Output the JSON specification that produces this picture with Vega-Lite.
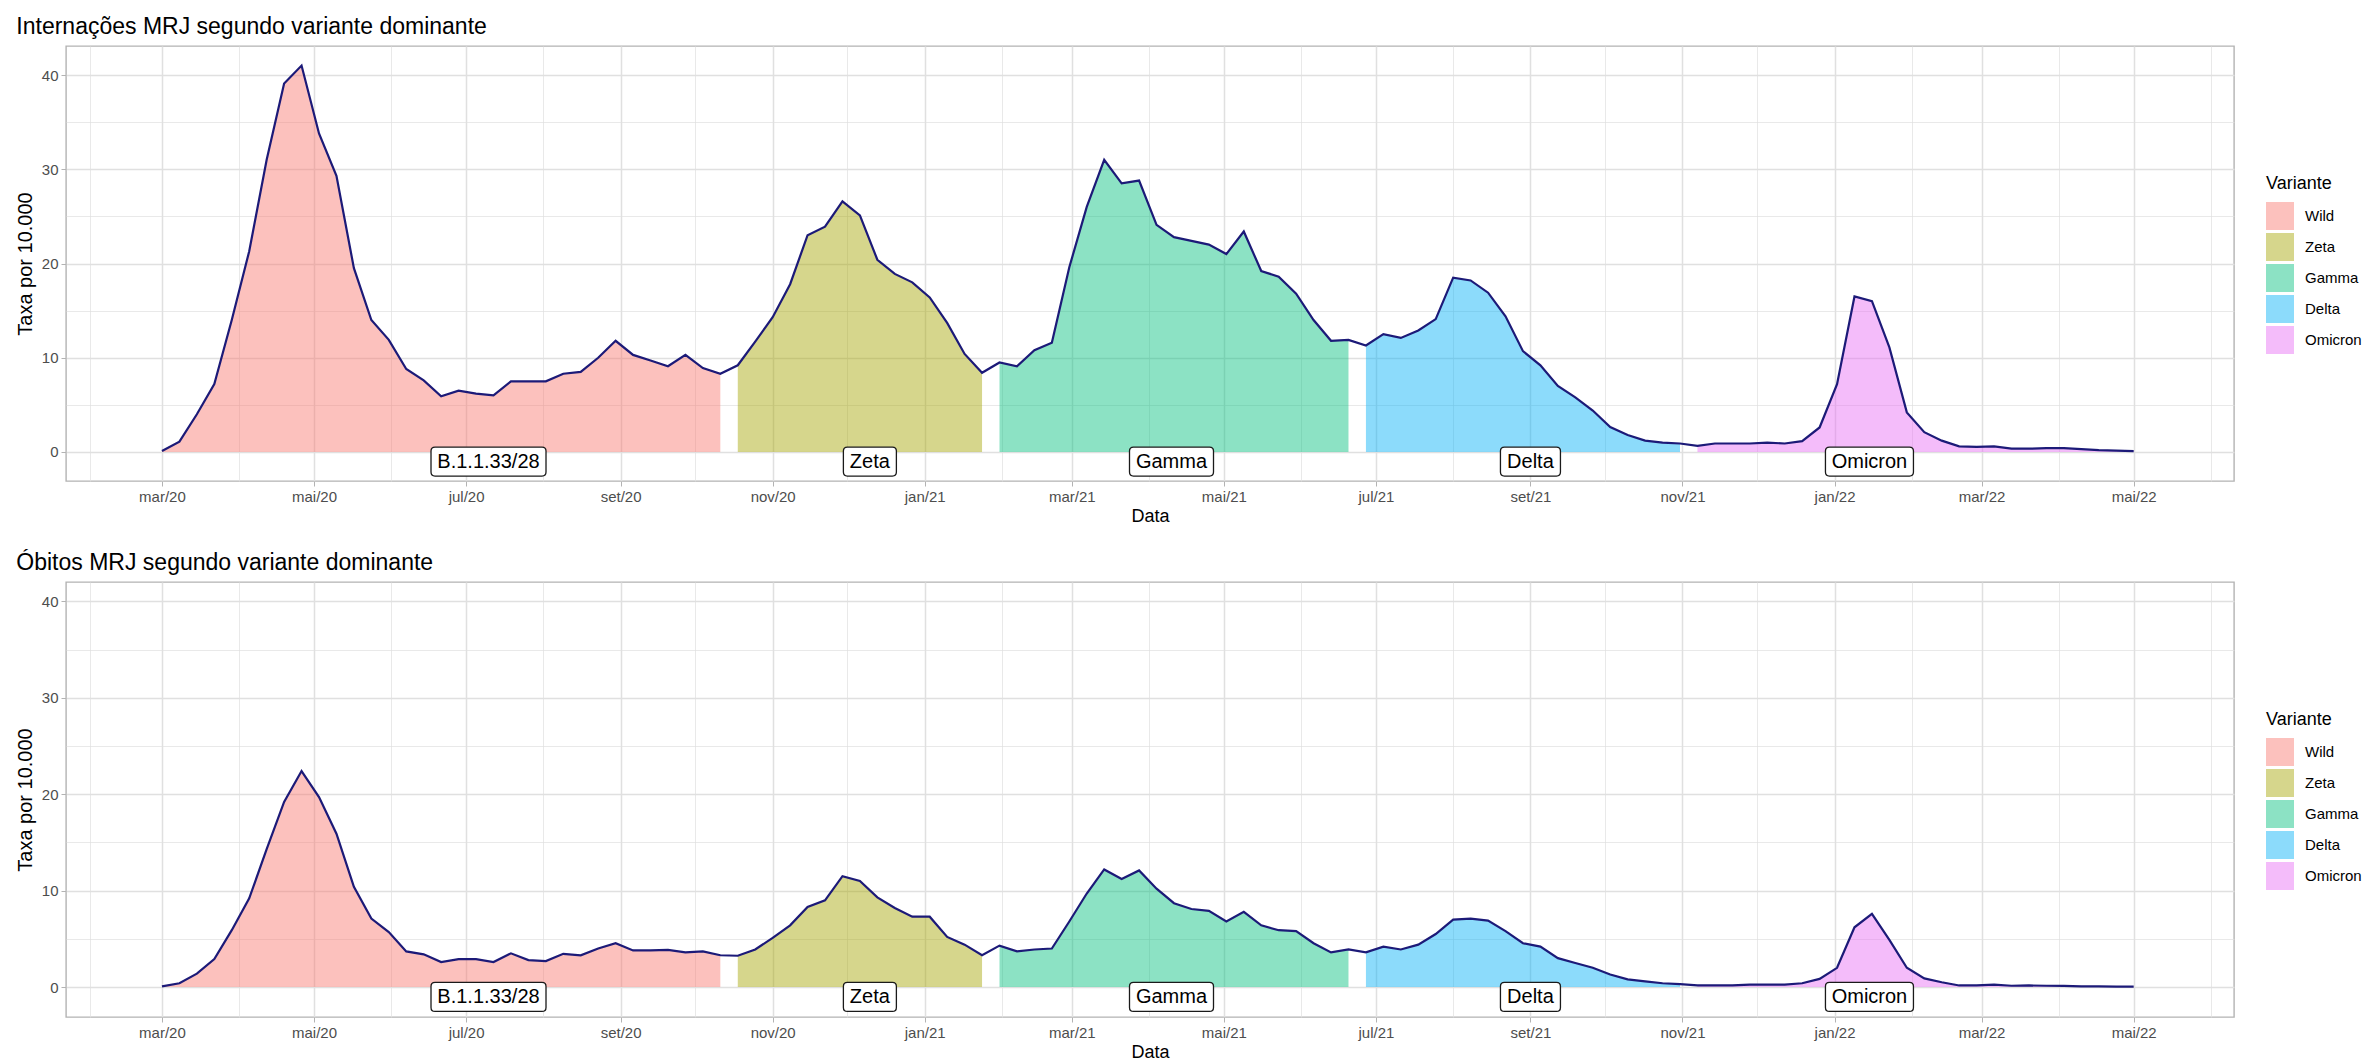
{
 "$schema": "https://vega.github.io/schema/vega-lite/v6.json",
 "padding": {"left": 14, "top": 15, "right": 2, "bottom": 0},
 "background": "white",
 "config": {
  "font": "Liberation Sans",
  "view": {"stroke": "#b3b3b3", "strokeWidth": 1.4},
  "title": {"fontSize": 23, "fontWeight": "normal", "color": "black", "anchor": "start", "offset": 7, "dx": 1},
  "axis": {"domain": false, "labelFontSize": 15, "labelColor": "#4d4d4d", "titleFontSize": 18, "titleFontWeight": "normal", "titleColor": "black", "tickColor": "#b3b3b3", "tickSize": 5, "tickWidth": 1, "gridColor": "#e0e0e0", "labelPadding": 3}
 },
 "datasets": {
  "serie": [
   {"data":"2020-03-01","variante":"Wild","internacoes":0.1,"obitos":0.07},
   {"data":"2020-03-08","variante":"Wild","internacoes":1.1,"obitos":0.4},
   {"data":"2020-03-15","variante":"Wild","internacoes":4.0,"obitos":1.4},
   {"data":"2020-03-22","variante":"Wild","internacoes":7.2,"obitos":2.9},
   {"data":"2020-03-29","variante":"Wild","internacoes":14.0,"obitos":5.9},
   {"data":"2020-04-05","variante":"Wild","internacoes":21.3,"obitos":9.2},
   {"data":"2020-04-12","variante":"Wild","internacoes":31.0,"obitos":14.3},
   {"data":"2020-04-19","variante":"Wild","internacoes":39.1,"obitos":19.2},
   {"data":"2020-04-26","variante":"Wild","internacoes":41.0,"obitos":22.4},
   {"data":"2020-05-03","variante":"Wild","internacoes":33.8,"obitos":19.7},
   {"data":"2020-05-10","variante":"Wild","internacoes":29.3,"obitos":15.9},
   {"data":"2020-05-17","variante":"Wild","internacoes":19.5,"obitos":10.4},
   {"data":"2020-05-24","variante":"Wild","internacoes":14.0,"obitos":7.1},
   {"data":"2020-05-31","variante":"Wild","internacoes":11.9,"obitos":5.7},
   {"data":"2020-06-07","variante":"Wild","internacoes":8.8,"obitos":3.7},
   {"data":"2020-06-14","variante":"Wild","internacoes":7.6,"obitos":3.4},
   {"data":"2020-06-21","variante":"Wild","internacoes":5.9,"obitos":2.6},
   {"data":"2020-06-28","variante":"Wild","internacoes":6.5,"obitos":2.9},
   {"data":"2020-07-05","variante":"Wild","internacoes":6.2,"obitos":2.9},
   {"data":"2020-07-12","variante":"Wild","internacoes":6.0,"obitos":2.6},
   {"data":"2020-07-19","variante":"Wild","internacoes":7.5,"obitos":3.5},
   {"data":"2020-07-26","variante":"Wild","internacoes":7.5,"obitos":2.8},
   {"data":"2020-08-02","variante":"Wild","internacoes":7.5,"obitos":2.7},
   {"data":"2020-08-09","variante":"Wild","internacoes":8.3,"obitos":3.45},
   {"data":"2020-08-16","variante":"Wild","internacoes":8.5,"obitos":3.3},
   {"data":"2020-08-23","variante":"Wild","internacoes":10.0,"obitos":4.0},
   {"data":"2020-08-30","variante":"Wild","internacoes":11.8,"obitos":4.55},
   {"data":"2020-09-06","variante":"Wild","internacoes":10.3,"obitos":3.8},
   {"data":"2020-09-13","variante":"Wild","internacoes":9.7,"obitos":3.8},
   {"data":"2020-09-20","variante":"Wild","internacoes":9.1,"obitos":3.85},
   {"data":"2020-09-27","variante":"Wild","internacoes":10.3,"obitos":3.6},
   {"data":"2020-10-04","variante":"Wild","internacoes":8.9,"obitos":3.7},
   {"data":"2020-10-11","variante":"Wild","internacoes":8.3,"obitos":3.3},
   {"data":"2020-10-18","variante":"Zeta","internacoes":9.2,"obitos":3.25},
   {"data":"2020-10-25","variante":"Zeta","internacoes":11.7,"obitos":3.9},
   {"data":"2020-11-01","variante":"Zeta","internacoes":14.3,"obitos":5.1},
   {"data":"2020-11-08","variante":"Zeta","internacoes":17.8,"obitos":6.4},
   {"data":"2020-11-15","variante":"Zeta","internacoes":23.0,"obitos":8.3},
   {"data":"2020-11-22","variante":"Zeta","internacoes":23.9,"obitos":9.0},
   {"data":"2020-11-29","variante":"Zeta","internacoes":26.6,"obitos":11.5},
   {"data":"2020-12-06","variante":"Zeta","internacoes":25.1,"obitos":11.0},
   {"data":"2020-12-13","variante":"Zeta","internacoes":20.4,"obitos":9.3},
   {"data":"2020-12-20","variante":"Zeta","internacoes":18.9,"obitos":8.2},
   {"data":"2020-12-27","variante":"Zeta","internacoes":18.0,"obitos":7.3},
   {"data":"2021-01-03","variante":"Zeta","internacoes":16.4,"obitos":7.3},
   {"data":"2021-01-10","variante":"Zeta","internacoes":13.7,"obitos":5.2},
   {"data":"2021-01-17","variante":"Zeta","internacoes":10.4,"obitos":4.4},
   {"data":"2021-01-24","variante":"Zeta","internacoes":8.4,"obitos":3.3},
   {"data":"2021-01-31","variante":"Gamma","internacoes":9.5,"obitos":4.3},
   {"data":"2021-02-07","variante":"Gamma","internacoes":9.1,"obitos":3.7},
   {"data":"2021-02-14","variante":"Gamma","internacoes":10.8,"obitos":3.9},
   {"data":"2021-02-21","variante":"Gamma","internacoes":11.6,"obitos":4.0},
   {"data":"2021-02-28","variante":"Gamma","internacoes":19.6,"obitos":6.8},
   {"data":"2021-03-07","variante":"Gamma","internacoes":26.0,"obitos":9.7},
   {"data":"2021-03-14","variante":"Gamma","internacoes":31.0,"obitos":12.2},
   {"data":"2021-03-21","variante":"Gamma","internacoes":28.5,"obitos":11.2},
   {"data":"2021-03-28","variante":"Gamma","internacoes":28.8,"obitos":12.1},
   {"data":"2021-04-04","variante":"Gamma","internacoes":24.1,"obitos":10.2},
   {"data":"2021-04-11","variante":"Gamma","internacoes":22.8,"obitos":8.7},
   {"data":"2021-04-18","variante":"Gamma","internacoes":22.4,"obitos":8.1},
   {"data":"2021-04-25","variante":"Gamma","internacoes":22.0,"obitos":7.9},
   {"data":"2021-05-02","variante":"Gamma","internacoes":21.0,"obitos":6.8},
   {"data":"2021-05-09","variante":"Gamma","internacoes":23.4,"obitos":7.8},
   {"data":"2021-05-16","variante":"Gamma","internacoes":19.2,"obitos":6.4},
   {"data":"2021-05-23","variante":"Gamma","internacoes":18.6,"obitos":5.9},
   {"data":"2021-05-30","variante":"Gamma","internacoes":16.8,"obitos":5.8},
   {"data":"2021-06-06","variante":"Gamma","internacoes":14.0,"obitos":4.55},
   {"data":"2021-06-13","variante":"Gamma","internacoes":11.8,"obitos":3.6},
   {"data":"2021-06-20","variante":"Gamma","internacoes":11.9,"obitos":3.9},
   {"data":"2021-06-27","variante":"Delta","internacoes":11.3,"obitos":3.6},
   {"data":"2021-07-04","variante":"Delta","internacoes":12.5,"obitos":4.2},
   {"data":"2021-07-11","variante":"Delta","internacoes":12.1,"obitos":3.9},
   {"data":"2021-07-18","variante":"Delta","internacoes":12.9,"obitos":4.4},
   {"data":"2021-07-25","variante":"Delta","internacoes":14.1,"obitos":5.5},
   {"data":"2021-08-01","variante":"Delta","internacoes":18.5,"obitos":7.0},
   {"data":"2021-08-08","variante":"Delta","internacoes":18.2,"obitos":7.1},
   {"data":"2021-08-15","variante":"Delta","internacoes":16.9,"obitos":6.9},
   {"data":"2021-08-22","variante":"Delta","internacoes":14.4,"obitos":5.8},
   {"data":"2021-08-29","variante":"Delta","internacoes":10.7,"obitos":4.55},
   {"data":"2021-09-05","variante":"Delta","internacoes":9.2,"obitos":4.2},
   {"data":"2021-09-12","variante":"Delta","internacoes":7.0,"obitos":3.0},
   {"data":"2021-09-19","variante":"Delta","internacoes":5.8,"obitos":2.5},
   {"data":"2021-09-26","variante":"Delta","internacoes":4.4,"obitos":2.0},
   {"data":"2021-10-03","variante":"Delta","internacoes":2.65,"obitos":1.3},
   {"data":"2021-10-10","variante":"Delta","internacoes":1.8,"obitos":0.8},
   {"data":"2021-10-17","variante":"Delta","internacoes":1.2,"obitos":0.6},
   {"data":"2021-10-24","variante":"Delta","internacoes":1.0,"obitos":0.4},
   {"data":"2021-10-31","variante":"Delta","internacoes":0.9,"obitos":0.3},
   {"data":"2021-11-07","variante":"Omicron","internacoes":0.65,"obitos":0.17},
   {"data":"2021-11-14","variante":"Omicron","internacoes":0.9,"obitos":0.17},
   {"data":"2021-11-21","variante":"Omicron","internacoes":0.9,"obitos":0.17},
   {"data":"2021-11-28","variante":"Omicron","internacoes":0.9,"obitos":0.25},
   {"data":"2021-12-05","variante":"Omicron","internacoes":1.0,"obitos":0.25},
   {"data":"2021-12-12","variante":"Omicron","internacoes":0.9,"obitos":0.25},
   {"data":"2021-12-19","variante":"Omicron","internacoes":1.15,"obitos":0.4},
   {"data":"2021-12-26","variante":"Omicron","internacoes":2.6,"obitos":0.85},
   {"data":"2022-01-02","variante":"Omicron","internacoes":7.2,"obitos":2.0},
   {"data":"2022-01-09","variante":"Omicron","internacoes":16.5,"obitos":6.2},
   {"data":"2022-01-16","variante":"Omicron","internacoes":16.0,"obitos":7.6},
   {"data":"2022-01-23","variante":"Omicron","internacoes":11.1,"obitos":4.9},
   {"data":"2022-01-30","variante":"Omicron","internacoes":4.2,"obitos":2.0},
   {"data":"2022-02-06","variante":"Omicron","internacoes":2.1,"obitos":0.9},
   {"data":"2022-02-13","variante":"Omicron","internacoes":1.2,"obitos":0.5},
   {"data":"2022-02-20","variante":"Omicron","internacoes":0.6,"obitos":0.17},
   {"data":"2022-02-27","variante":"Omicron","internacoes":0.55,"obitos":0.17},
   {"data":"2022-03-06","variante":"Omicron","internacoes":0.6,"obitos":0.25},
   {"data":"2022-03-13","variante":"Omicron","internacoes":0.35,"obitos":0.14},
   {"data":"2022-03-20","variante":"Omicron","internacoes":0.35,"obitos":0.17},
   {"data":"2022-03-27","variante":"Omicron","internacoes":0.4,"obitos":0.14},
   {"data":"2022-04-03","variante":"Omicron","internacoes":0.4,"obitos":0.12},
   {"data":"2022-04-10","variante":"Omicron","internacoes":0.3,"obitos":0.07},
   {"data":"2022-04-17","variante":"Omicron","internacoes":0.2,"obitos":0.07},
   {"data":"2022-04-24","variante":"Omicron","internacoes":0.15,"obitos":0.05},
   {"data":"2022-05-01","variante":"Omicron","internacoes":0.1,"obitos":0.05}
  ],
  "rotulos": [
   {"rotulo":"B.1.1.33/28","data":"2020-07-10"},
   {"rotulo":"Zeta","data":"2020-12-10"},
   {"rotulo":"Gamma","data":"2021-04-10"},
   {"rotulo":"Delta","data":"2021-09-01"},
   {"rotulo":"Omicron","data":"2022-01-15"}
  ]
 },
 "bounds": "flush",
 "spacing": 101,
 "resolve": {"legend": {"color": "independent"}, "scale": {"y": "independent"}},
 "vconcat": [
  {
   "title": {"text": "Internações MRJ segundo variante dominante"},
   "width": 2168, "height": 435,
   "layer": [
    {"data": {"name": "serie"},
     "mark": {"type": "area", "fillOpacity": 0.45},
     "encoding": {
      "x": {"field": "data", "type": "temporal",
            "scale": {"type": "utc", "nice": false, "domain": [{"year":2020,"month":1,"date":22,"hours":12,"utc":true},{"year":2022,"month":6,"date":10,"hours":6,"utc":true}]},
            "axis": {"title": "Data", "titlePadding": 3, "tickCount": {"interval": "month", "step": 1}, "labelOverlap": false, "labelFlush": false,
                     "labelExpr": "utcmonth(datum.value) % 2 === 0 ? ['jan','fev','mar','abr','mai','jun','jul','ago','set','out','nov','dez'][utcmonth(datum.value)] + '/' + utcFormat(datum.value, '%y') : ''",
                     "tickOpacity": {"condition": {"test": "utcmonth(datum.value) % 2 === 0", "value": 1}, "value": 0},
                     "gridWidth": {"condition": {"test": "utcmonth(datum.value) % 2 === 0", "value": 1.5}, "value": 0.7}}},
      "y": {"field": "internacoes", "type": "quantitative", "stack": null,
            "scale": {"domain": [-3.08, 43.08], "nice": false, "zero": false},
            "axis": {"title": "Taxa por 10.000", "titleFontSize": 20, "titlePadding": 6, "values": [0,5,10,15,20,25,30,35,40],
                     "labelExpr": "datum.value % 10 === 0 ? datum.label : ''",
                     "tickOpacity": {"condition": {"test": "datum.value % 10 === 0", "value": 1}, "value": 0},
                     "gridWidth": {"condition": {"test": "datum.value % 10 === 0", "value": 1.5}, "value": 0.7}}},
      "color": {"field": "variante", "type": "nominal",
                "scale": {"domain": ["Wild","Zeta","Gamma","Delta","Omicron"], "range": ["#F8766D","#A3A500","#00BF7D","#00B0F6","#E76BF3"]},
                "legend": {"title": "Variante", "orient": "none", "legendX": 2200, "legendY": 129, "padding": 0,
                           "symbolType": "square", "symbolSize": 784, "symbolOpacity": 0.45, "symbolStrokeWidth": 0,
                           "rowPadding": 3, "labelFontSize": 15, "labelColor": "black", "labelOffset": 11,
                           "titleFontSize": 18, "titleFontWeight": "normal", "titleColor": "black", "titlePadding": 9}}
     }},
    {"data": {"name": "serie"},
     "mark": {"type": "line", "color": "#1c1a78", "strokeWidth": 2.2},
     "encoding": {"x": {"field": "data", "type": "temporal"}, "y": {"field": "internacoes", "type": "quantitative"}}},
    {"data": {"name": "rotulos"},
     "mark": {"type": "point", "filled": true, "fill": "white", "stroke": "#1a1a1a", "strokeWidth": 1.3, "size": 4, "opacity": 1},
     "encoding": {"x": {"field": "data", "type": "temporal"}, "y": {"datum": -1.02},
                  "shape": {"field": "rotulo", "type": "nominal", "legend": null,
                            "scale": {"domain": ["B.1.1.33/28","Zeta","Gamma","Delta","Omicron"],
                                      "range": ["M-53.5,-14.5H53.5Q57.5,-14.5,57.5,-10.5V10.5Q57.5,14.5,53.5,14.5H-53.5Q-57.5,14.5,-57.5,10.5V-10.5Q-57.5,-14.5,-53.5,-14.5Z",
                                                "M-22.5,-14.5H22.5Q26.5,-14.5,26.5,-10.5V10.5Q26.5,14.5,22.5,14.5H-22.5Q-26.5,14.5,-26.5,10.5V-10.5Q-26.5,-14.5,-22.5,-14.5Z",
                                                "M-38,-14.5H38Q42,-14.5,42,-10.5V10.5Q42,14.5,38,14.5H-38Q-42,14.5,-42,10.5V-10.5Q-42,-14.5,-38,-14.5Z",
                                                "M-26,-14.5H26Q30,-14.5,30,-10.5V10.5Q30,14.5,26,14.5H-26Q-30,14.5,-30,10.5V-10.5Q-30,-14.5,-26,-14.5Z",
                                                "M-40,-14.5H40Q44,-14.5,44,-10.5V10.5Q44,14.5,40,14.5H-40Q-44,14.5,-44,10.5V-10.5Q-44,-14.5,-40,-14.5Z"]}}}},
    {"data": {"name": "rotulos"},
     "mark": {"type": "text", "fontSize": 20, "color": "black", "baseline": "middle", "align": "center"},
     "encoding": {"x": {"field": "data", "type": "temporal"}, "y": {"datum": -1.02}, "text": {"field": "rotulo"}}}
   ]
  },
  {
   "title": {"text": "Óbitos MRJ segundo variante dominante"},
   "width": 2168, "height": 435,
   "layer": [
    {"data": {"name": "serie"},
     "mark": {"type": "area", "fillOpacity": 0.45},
     "encoding": {
      "x": {"field": "data", "type": "temporal",
            "scale": {"type": "utc", "nice": false, "domain": [{"year":2020,"month":1,"date":22,"hours":12,"utc":true},{"year":2022,"month":6,"date":10,"hours":6,"utc":true}]},
            "axis": {"title": "Data", "titlePadding": 3, "tickCount": {"interval": "month", "step": 1}, "labelOverlap": false, "labelFlush": false,
                     "labelExpr": "utcmonth(datum.value) % 2 === 0 ? ['jan','fev','mar','abr','mai','jun','jul','ago','set','out','nov','dez'][utcmonth(datum.value)] + '/' + utcFormat(datum.value, '%y') : ''",
                     "tickOpacity": {"condition": {"test": "utcmonth(datum.value) % 2 === 0", "value": 1}, "value": 0},
                     "gridWidth": {"condition": {"test": "utcmonth(datum.value) % 2 === 0", "value": 1.5}, "value": 0.7}}},
      "y": {"field": "obitos", "type": "quantitative", "stack": null,
            "scale": {"domain": [-3.1, 42.0], "nice": false, "zero": false},
            "axis": {"title": "Taxa por 10.000", "titleFontSize": 20, "titlePadding": 6, "values": [0,5,10,15,20,25,30,35,40],
                     "labelExpr": "datum.value % 10 === 0 ? datum.label : ''",
                     "tickOpacity": {"condition": {"test": "datum.value % 10 === 0", "value": 1}, "value": 0},
                     "gridWidth": {"condition": {"test": "datum.value % 10 === 0", "value": 1.5}, "value": 0.7}}},
      "color": {"field": "variante", "type": "nominal",
                "scale": {"domain": ["Wild","Zeta","Gamma","Delta","Omicron"], "range": ["#F8766D","#A3A500","#00BF7D","#00B0F6","#E76BF3"]},
                "legend": {"title": "Variante", "orient": "none", "legendX": 2200, "legendY": 129, "padding": 0,
                           "symbolType": "square", "symbolSize": 784, "symbolOpacity": 0.45, "symbolStrokeWidth": 0,
                           "rowPadding": 3, "labelFontSize": 15, "labelColor": "black", "labelOffset": 11,
                           "titleFontSize": 18, "titleFontWeight": "normal", "titleColor": "black", "titlePadding": 9}}
     }},
    {"data": {"name": "serie"},
     "mark": {"type": "line", "color": "#1c1a78", "strokeWidth": 2.2},
     "encoding": {"x": {"field": "data", "type": "temporal"}, "y": {"field": "obitos", "type": "quantitative"}}},
    {"data": {"name": "rotulos"},
     "mark": {"type": "point", "filled": true, "fill": "white", "stroke": "#1a1a1a", "strokeWidth": 1.3, "size": 4, "opacity": 1},
     "encoding": {"x": {"field": "data", "type": "temporal"}, "y": {"datum": -1.02},
                  "shape": {"field": "rotulo", "type": "nominal", "legend": null,
                            "scale": {"domain": ["B.1.1.33/28","Zeta","Gamma","Delta","Omicron"],
                                      "range": ["M-53.5,-14.5H53.5Q57.5,-14.5,57.5,-10.5V10.5Q57.5,14.5,53.5,14.5H-53.5Q-57.5,14.5,-57.5,10.5V-10.5Q-57.5,-14.5,-53.5,-14.5Z",
                                                "M-22.5,-14.5H22.5Q26.5,-14.5,26.5,-10.5V10.5Q26.5,14.5,22.5,14.5H-22.5Q-26.5,14.5,-26.5,10.5V-10.5Q-26.5,-14.5,-22.5,-14.5Z",
                                                "M-38,-14.5H38Q42,-14.5,42,-10.5V10.5Q42,14.5,38,14.5H-38Q-42,14.5,-42,10.5V-10.5Q-42,-14.5,-38,-14.5Z",
                                                "M-26,-14.5H26Q30,-14.5,30,-10.5V10.5Q30,14.5,26,14.5H-26Q-30,14.5,-30,10.5V-10.5Q-30,-14.5,-26,-14.5Z",
                                                "M-40,-14.5H40Q44,-14.5,44,-10.5V10.5Q44,14.5,40,14.5H-40Q-44,14.5,-44,10.5V-10.5Q-44,-14.5,-40,-14.5Z"]}}}},
    {"data": {"name": "rotulos"},
     "mark": {"type": "text", "fontSize": 20, "color": "black", "baseline": "middle", "align": "center"},
     "encoding": {"x": {"field": "data", "type": "temporal"}, "y": {"datum": -1.02}, "text": {"field": "rotulo"}}}
   ]
  }
 ]
}
